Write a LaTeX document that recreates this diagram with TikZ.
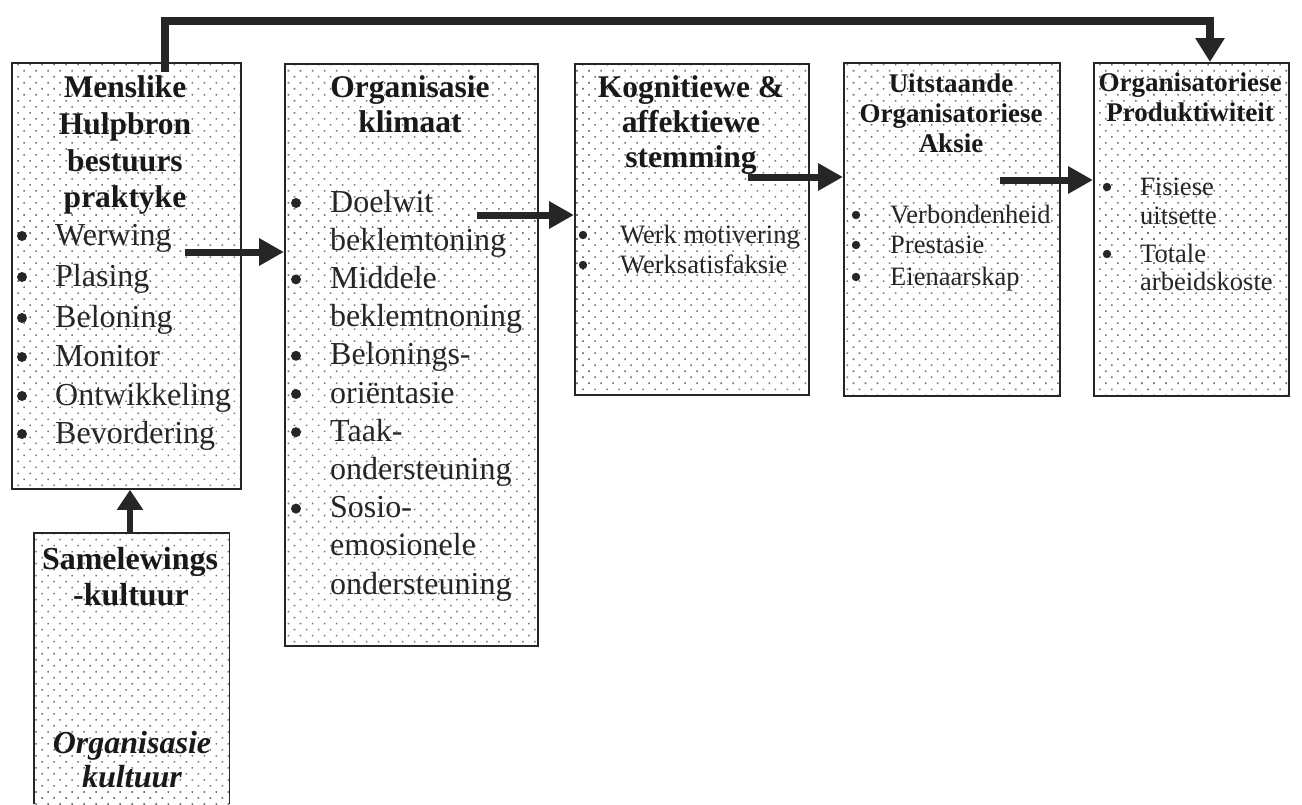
\documentclass[tikz,border=0pt]{standalone}
\usepackage{fontspec}
\setmainfont{Liberation Serif}
\usetikzlibrary{arrows.meta,patterns.meta}
\tikzset{
  dotfill/.style={pattern={Dots[distance=8.5pt,angle=45,radius=1.1pt]}, pattern color=black!55},
  box/.style={draw=black!85, line width=1.8pt, dotfill, inner sep=0pt, anchor=north west},
  samfill/.style={dotfill, inner sep=0pt, anchor=north west},
  ttlL/.style={font=\fontsize{31.5}{36}\selectfont\bfseries, anchor=base, inner sep=0pt, text=black!90},
  ttlS/.style={font=\fontsize{27}{31}\selectfont\bfseries, anchor=base, inner sep=0pt, text=black!90},
  ittl/.style={font=\fontsize{32}{36}\selectfont\bfseries\itshape, anchor=base, inner sep=0pt, text=black!90},
  itmL/.style={font=\fontsize{32}{36}\selectfont, anchor=base west, inner sep=0pt, text=black!85},
  itmS/.style={font=\fontsize{26.5}{30}\selectfont, anchor=base west, inner sep=0pt, text=black!85},
  bul/.style={fill=black!85},
  conn/.style={draw=black!85, line width=7pt, -{Triangle[length=25pt,width=26pt]}},
  upconn/.style={draw=black!85, line width=6pt, -{Triangle[length=20pt,width=25pt]}},
  topconn/.style={draw=black!85, line width=8pt, line join=miter, -{Triangle[length=24pt,width=28pt]}},
}
\begin{document}
\begin{tikzpicture}[x=1pt,y=-1pt]
\useasboundingbox (0,0) rectangle (1302,804);
\fill[white] (0,0) rectangle (1302,804);

% boxes
\node[box, minimum width=229pt, minimum height=426pt] (hr) at (11,62) {};
\node[box, minimum width=253pt, minimum height=582pt] (ok) at (284,63) {};
\node[box, minimum width=234pt, minimum height=331pt] (kog) at (574,63) {};
\node[box, minimum width=216pt, minimum height=333pt] (uit) at (843,62) {};
\node[box, minimum width=195pt, minimum height=333pt] (prod) at (1093,62) {};
\node[samfill, minimum width=195pt, minimum height=271pt] (sam) at (34,533) {};
\draw[draw=black!85, line width=1.8pt] (sam.south west) -- (sam.north west) -- (sam.north east) -- (sam.south east);

% box 1
\foreach \t/\y [count=\i] in {Menslike/97, Hulpbron/134, bestuurs/171, praktyke/207}
  \node[ttlL] (hrt\i) at (125,\y) {\t};
\foreach \t/\y [count=\i] in {Werwing/245, Plasing/286, Beloning/327, Monitor/366, Ontwikkeling/405, Bevordering/443}{
  \node[itmL] (hri\i) at (55,\y) {\t};
  \fill[bul] (22,\y-9) circle (5pt);
}

% box 2
\foreach \t/\y [count=\i] in {Organisasie/97, klimaat/132}
  \node[ttlL] (okt\i) at (410,\y) {\t};
\foreach \t/\b [count=\i] in {Doelwit/1, beklemtoning/0, Middele/1, beklemtnoning/0, Belonings-/1, oriëntasie/1, Taak-/1, ondersteuning/0, Sosio-/1, emosionele/0, ondersteuning/0}{
  \pgfmathsetmacro{\yy}{212+38.2*(\i-1)}
  \node[itmL] (oki\i) at (330,\yy) {\t};
  \ifnum\b=1 \fill[bul] (296,\yy-9) circle (5pt); \fi
}

% box 3
\foreach \t/\y [count=\i] in {Kognitiewe \&/97, affektiewe/132, stemming/167}
  \node[ttlL] (kogt\i) at (691,\y) {\t};
\foreach \t/\y [count=\i] in {Werk motivering/243, Werksatisfaksie/273}{
  \node[itmS] (kogi\i) at (620,\y) {\t};
  \fill[bul] (583,\y-8) circle (4.2pt);
}

% box 4
\foreach \t/\y [count=\i] in {Uitstaande/92, Organisatoriese/122, Aksie/152}
  \node[ttlS] (uitt\i) at (951,\y) {\t};
\foreach \t/\y [count=\i] in {Verbondenheid/223, Prestasie/253, Eienaarskap/285}{
  \node[itmS] (uiti\i) at (890,\y) {\t};
  \fill[bul] (856,\y-8) circle (4.2pt);
}

% box 5
\foreach \t/\y [count=\i] in {Organisatoriese/91, Produktiwiteit/121}
  \node[ttlS] (prodt\i) at (1190,\y) {\t};
\foreach \t/\y/\b [count=\i] in {Fisiese/195/1, uitsette/224/0, Totale/262/1, arbeidskoste/290/0}{
  \node[itmS] (prodi\i) at (1140,\y) {\t};
  \ifnum\b=1 \fill[bul] (1107,\y-8) circle (4.2pt); \fi
}

% samelewing box
\node[ttlL, font=\fontsize{32}{36}\selectfont\bfseries] (samt1) at (130,569) {Samelewings};
\node[ttlL, font=\fontsize{32}{36}\selectfont\bfseries] (samt2) at (131,605) {-kultuur};
\node[ittl] (samt3) at (132,753) {Organisasie};
\node[ittl] (samt4) at (132,787) {kultuur};

% connectors
\coordinate (s1) at (185,252);
\coordinate (s2) at (477,215);
\coordinate (s3) at (748,177);
\coordinate (s4) at (1000,180);
\draw[conn] (s1) -- (s1 -| ok.west);
\draw[conn] (s2) -- (s2 -| kog.west);
\draw[conn] (s3) -- (s3 -| uit.west);
\draw[conn] (s4) -- (s4 -| prod.west);
\coordinate (u0) at (130,533);
\draw[upconn] (u0) -- (u0 |- hr.south);
\coordinate (t0) at (165,72);
\coordinate (tc) at (1210,21);
\draw[topconn] (t0) |- (tc) -- (tc |- prod.north);
\end{tikzpicture}
\end{document}
